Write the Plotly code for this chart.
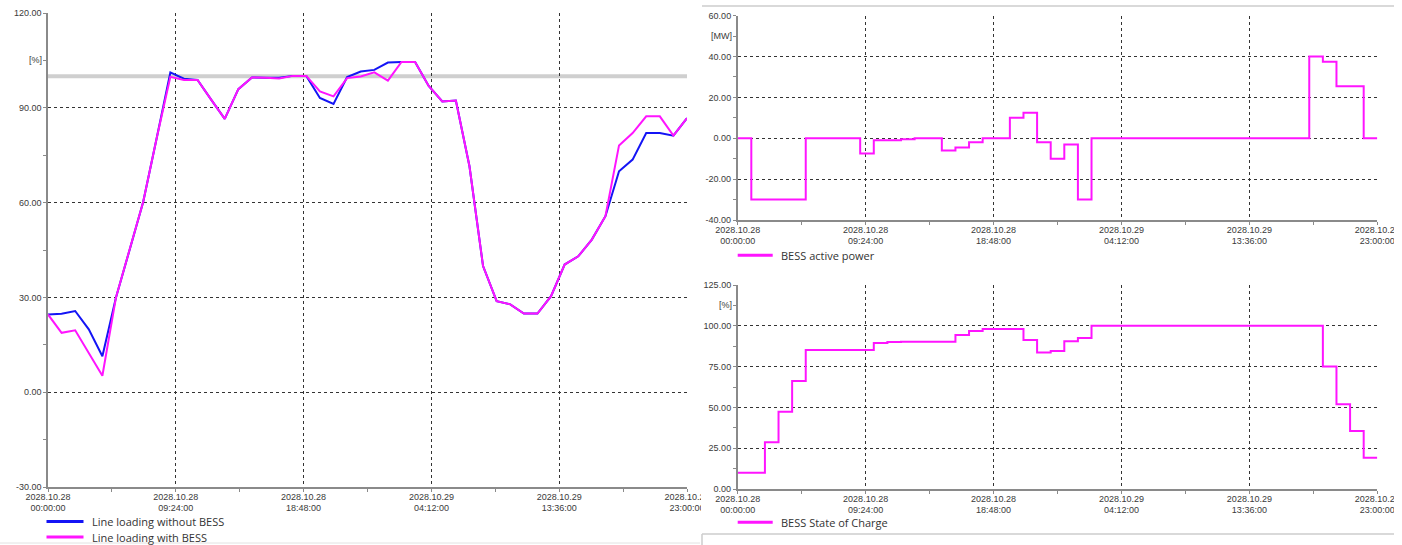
import datetime as dt
import plotly.graph_objects as go

# ---- time base: hourly samples over two days ----
START = dt.datetime(2028, 10, 28, 0, 0, 0)
hours = list(range(48))
tick_hours = [0, 9.4, 18.8, 28.2, 37.6, 47]
minor_tick_hours = [4.7, 14.1, 23.5, 32.9, 42.3]

# ---- line loading [%] ----
loading_without_bess = [
    24.6, 24.8, 25.7, 19.9, 11.4, 30.0, 45.0, 60.2, 80.5, 101.2,
    99.2, 98.8, 92.6, 86.5, 95.9, 99.6, 99.5, 99.5, 100.1, 100.1,
    93.1, 91.2, 99.7, 101.5, 102.0, 104.3, 104.5, 104.5, 96.9, 92.0,
    92.3, 71.5, 39.9, 28.8, 27.8, 24.9, 24.9, 30.4, 40.4, 43.0,
    48.3, 55.7, 69.9, 73.6, 82.0, 82.0, 81.2, 86.7,
]
loading_with_bess = [
    24.6, 18.8, 19.6, 12.5, 5.2, 30.0, 45.0, 60.2, 80.5, 99.8,
    98.8, 98.8, 92.6, 86.5, 95.9, 99.6, 99.5, 99.3, 100.1, 100.1,
    95.2, 93.6, 99.4, 99.9, 101.2, 98.6, 104.5, 104.5, 96.9, 92.0,
    92.3, 71.5, 39.9, 28.8, 27.8, 24.9, 24.9, 30.4, 40.4, 43.0,
    48.3, 55.7, 78.1, 82.0, 87.3, 87.3, 81.2, 86.7,
]
loading_limit = 100.0

# ---- BESS active power [MW], held constant over each hour ----
bess_power = [
    0, -30, -30, -30, -30, 0, 0, 0, 0, -7.5,
    -1, -1, -0.5, 0, 0, -6, -4.5, -2, 0, 0,
    10, 12.5, -2, -10, -3, -30, 0, 0, 0, 0,
    0, 0, 0, 0, 0, 0, 0, 0, 0, 0,
    0, 0, 40, 37.5, 25.5, 25.5, 0, 0,
]

# ---- BESS state of charge [%], held constant over each hour ----
bess_soc = [
    10, 10, 28.6, 47.4, 66.2, 85.2, 85.2, 85.2, 85.2, 85.2,
    89.5, 90, 90.3, 90.3, 90.3, 90.3, 94.4, 96.8, 98, 98,
    98, 91.3, 83.7, 84.5, 90.5, 92.5, 100, 100, 100, 100,
    100, 100, 100, 100, 100, 100, 100, 100, 100, 100,
    100, 100, 100, 75, 51.9, 35.5, 19.2, 19.2,
]

loading_ticks = [-30, 0, 30, 60, 90, 120]
power_ticks = [-40, -20, 0, 20, 40, 60]
soc_ticks = [0, 25, 50, 75, 100, 125]

BLUE = "#1414f5"
MAGENTA = "#ff14ff"
GRID = "#333333"
AXIS = "#8a8a8a"
TICK_FONT = dict(family="Liberation Sans, Arial, sans-serif", size=9, color="#3a3a3a")
LEGEND_FONT = dict(family="Open Sans, Noto Sans, sans-serif", size=11, color="#333333")

W, H = 1402, 545


def px_x(v):
    return v / W


def px_y(v):
    return 1 - v / H


def time_label(h):
    t = START + dt.timedelta(hours=h)
    return t.strftime("%Y.%m.%d") + "<br>" + t.strftime("%H:%M:%S")


tick_text = [time_label(h) for h in tick_hours]

fig = go.Figure()

fig.add_trace(go.Scatter(x=hours, y=loading_without_bess, mode="lines",
                         line=dict(color=BLUE, width=2), name="Line loading without BESS",
                         xaxis="x", yaxis="y", showlegend=False))
fig.add_trace(go.Scatter(x=hours, y=loading_with_bess, mode="lines",
                         line=dict(color=MAGENTA, width=2), name="Line loading with BESS",
                         xaxis="x", yaxis="y", showlegend=False))
fig.add_trace(go.Scatter(x=hours, y=bess_power, mode="lines", line_shape="hv",
                         line=dict(color=MAGENTA, width=2), name="BESS active power",
                         xaxis="x2", yaxis="y2", showlegend=False))
fig.add_trace(go.Scatter(x=hours, y=bess_soc, mode="lines", line_shape="hv",
                         line=dict(color=MAGENTA, width=2), name="BESS State of Charge",
                         xaxis="x3", yaxis="y3", showlegend=False))


def x_axis(domain, anchor):
    return dict(domain=domain, anchor=anchor, range=[0, 47], tickvals=tick_hours,
                ticktext=tick_text, tickangle=0, showgrid=True, gridcolor=GRID,
                griddash="3px,3px", gridwidth=1, zeroline=False, showline=True,
                linecolor=AXIS, linewidth=1.5, ticks="outside", ticklen=3,
                tickcolor=AXIS, tickfont=TICK_FONT, ticklabelstandoff=-3,
                automargin=False,
                minor=dict(tickvals=minor_tick_hours, ticklen=3, tickcolor=AXIS,
                           ticks="outside", showgrid=False))


def y_axis(domain, anchor, rng, ticks, minor):
    return dict(domain=domain, anchor=anchor, range=rng, tickvals=ticks,
                ticktext=[f"{v:.2f}" for v in ticks], showgrid=True, gridcolor=GRID,
                griddash="3px,3px", gridwidth=1, zeroline=False, showline=True,
                linecolor=AXIS, linewidth=1.5, ticks="outside", ticklen=3,
                tickcolor=AXIS, tickfont=TICK_FONT, automargin=False,
                minor=dict(tickvals=minor, ticklen=3, tickcolor=AXIS,
                           ticks="outside", showgrid=False))


left_x = [px_x(48), px_x(687)]
right_x = [px_x(737.7), px_x(1377.3)]

fig.update_layout(
    width=W, height=H, margin=dict(l=0, r=0, t=0, b=0, autoexpand=False),
    paper_bgcolor="white", plot_bgcolor="white",
    xaxis=x_axis(left_x, "y"),
    yaxis=y_axis([px_y(487), px_y(13)], "x", [-30, 120], loading_ticks,
                 [-15, 15, 45, 75, 105]),
    xaxis2=x_axis(right_x, "y2"),
    yaxis2=y_axis([px_y(220), px_y(15.7)], "x2", [-40, 60], power_ticks,
                  [-30, -10, 10, 30, 50]),
    xaxis3=x_axis(right_x, "y3"),
    yaxis3=y_axis([px_y(489), px_y(285)], "x3", [0, 125], soc_ticks,
                  [12.5, 37.5, 62.5, 87.5, 112.5]),
)

# loading limit band
fig.add_shape(type="line", xref="x", yref="y", x0=0, x1=47, y0=loading_limit,
              y1=loading_limit, line=dict(color="#cfcfcf", width=4), layer="below")

# unit labels
for yref, val, txt, xpos in [("y", 105, "[%]", 44), ("y2", 50, "[MW]", 733.5),
                             ("y3", 112.5, "[%]", 733.5)]:
    fig.add_annotation(xref="paper", yref=yref, x=px_x(xpos), y=val, text=txt,
                       showarrow=False, xanchor="right", yanchor="middle",
                       font=TICK_FONT)

# legends
legend_items = [
    (46.5, 83.5, 521.5, 90, BLUE, "Line loading without BESS"),
    (46.5, 83.5, 537, 90, MAGENTA, "Line loading with BESS"),
    (737.7, 772.7, 255.3, 779, MAGENTA, "BESS active power"),
    (737.7, 772.7, 522.3, 779, MAGENTA, "BESS State of Charge"),
]
for x0, x1, yy, tx, col, txt in legend_items:
    fig.add_shape(type="line", xref="paper", yref="paper", x0=px_x(x0), x1=px_x(x1),
                  y0=px_y(yy), y1=px_y(yy), line=dict(color=col, width=3))
    fig.add_annotation(xref="paper", yref="paper", x=px_x(tx), y=px_y(yy), text=txt,
                       showarrow=False, xanchor="left", yanchor="middle",
                       font=LEGEND_FONT)

# panel frames
frame = dict(color="#cccccc", width=1.5)
fig.add_shape(type="line", xref="paper", yref="paper", x0=px_x(702), x1=px_x(1395),
              y0=px_y(6), y1=px_y(6), line=frame)
fig.add_shape(type="line", xref="paper", yref="paper", x0=px_x(702), x1=px_x(1395),
              y0=px_y(534), y1=px_y(534), line=frame)
fig.add_shape(type="line", xref="paper", yref="paper", x0=px_x(702), x1=px_x(702),
              y0=px_y(534), y1=0, line=frame)
fig.add_shape(type="line", xref="paper", yref="paper", x0=0, x1=px_x(700),
              y0=px_y(543), y1=px_y(543), line=dict(color="#e2e2e2", width=1))

# panel clipping at the right edges
fig.add_shape(type="rect", xref="paper", yref="paper", x0=px_x(701), x1=px_x(712),
              y0=px_y(520), y1=px_y(488), fillcolor="white", line=dict(width=0),
              layer="above")
fig.add_shape(type="rect", xref="paper", yref="paper", x0=px_x(1394), x1=1,
              y0=0, y1=1, fillcolor="white", line=dict(width=0), layer="above")

fig.write_html("out.html")
